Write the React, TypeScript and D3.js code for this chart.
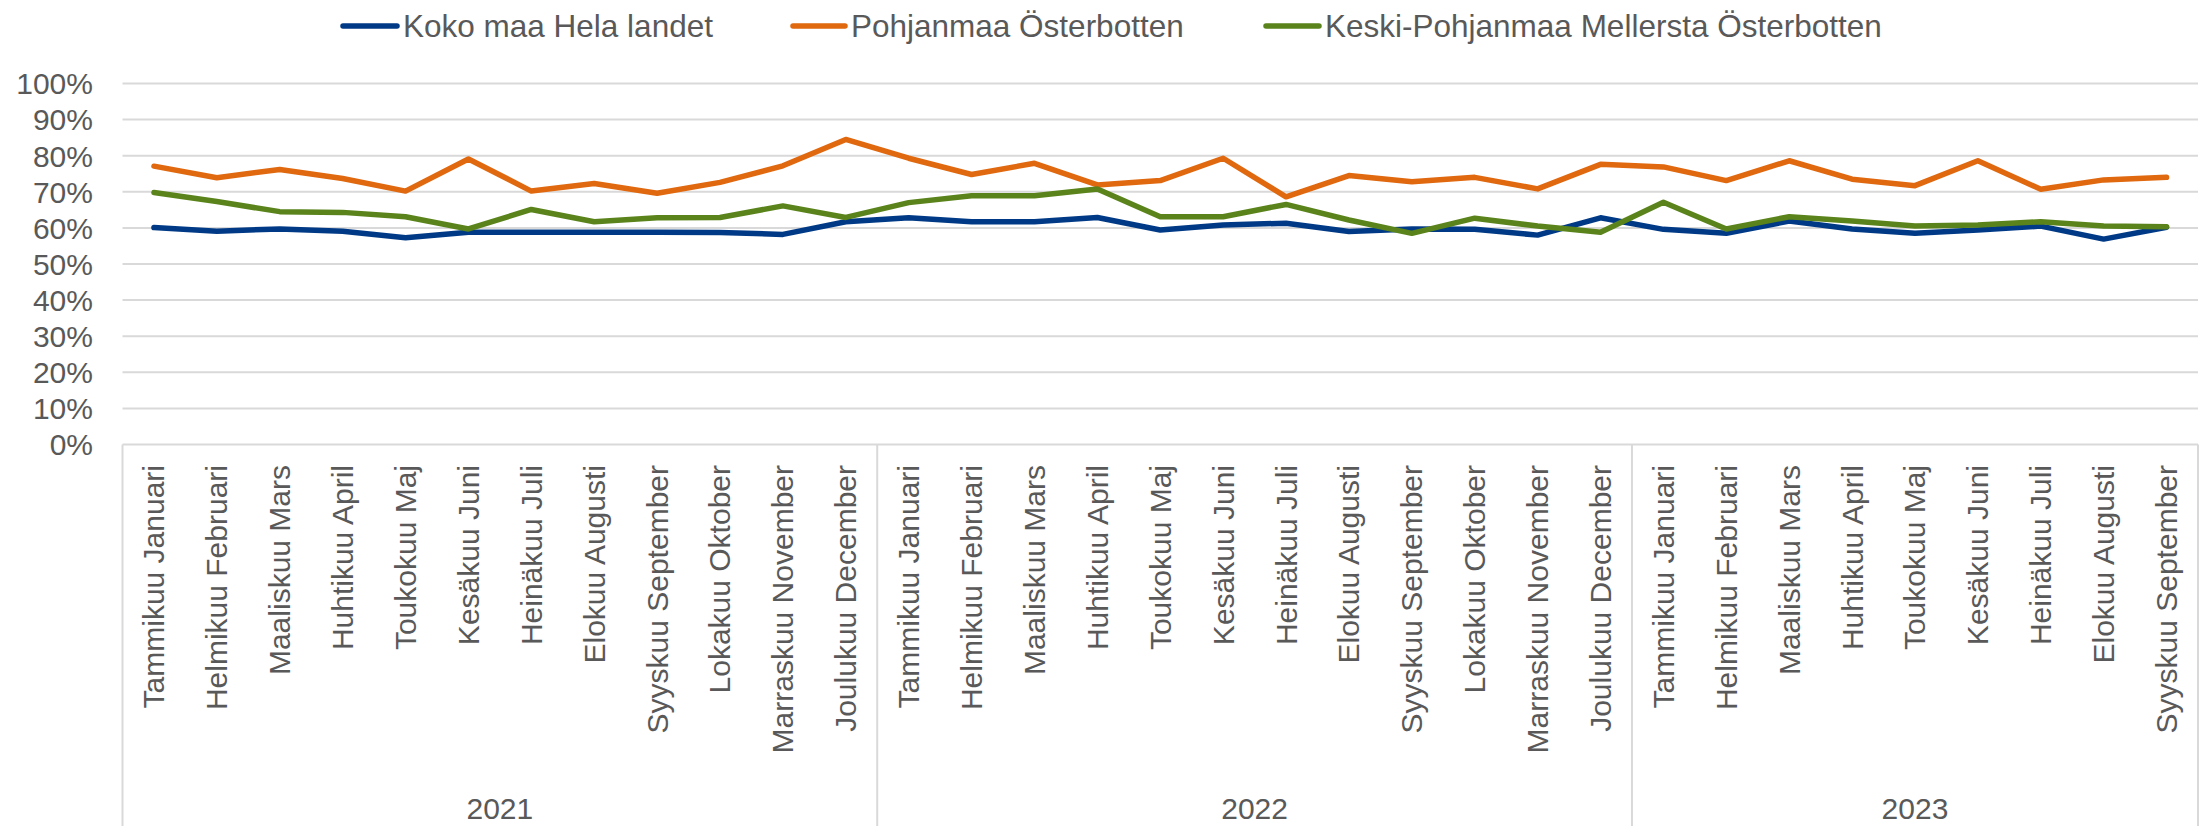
import React from "react";
import * as d3 from "d3";

// months in Finnish + Swedish
const months = [
  "Tammikuu Januari", "Helmikuu Februari", "Maaliskuu Mars", "Huhtikuu April",
  "Toukokuu Maj", "Kesäkuu Juni", "Heinäkuu Juli", "Elokuu Augusti",
  "Syyskuu September", "Lokakuu Oktober", "Marraskuu November", "Joulukuu December",
];
const years = ["2021", "2022", "2023"];
const monthsPerYear = [12, 12, 9];

const kokoMaa = [
  60.1, 59.1, 59.7, 59.1, 57.3, 58.8, 58.8, 58.8, 58.8, 58.7, 58.2, 61.7,
  62.8, 61.7, 61.7, 62.9, 59.4, 60.8, 61.3, 59.0, 59.7, 59.6, 58.0, 62.8,
  59.6, 58.5, 61.9, 59.7, 58.5, 59.4, 60.5, 56.9, 60.2,
];
const pohjanmaa = [
  77.1, 73.9, 76.2, 73.7, 70.2, 79.1, 70.2, 72.3, 69.6, 72.6, 77.2, 84.5,
  79.3, 74.8, 77.9, 71.9, 73.1, 79.3, 68.6, 74.5, 72.8, 74.0, 70.8, 77.6,
  76.9, 73.1, 78.6, 73.5, 71.7, 78.6, 70.7, 73.3, 74.0,
];
const keskiPohjanmaa = [
  69.8, 67.3, 64.5, 64.3, 63.1, 59.7, 65.1, 61.7, 62.8, 62.9, 66.1, 62.9,
  67.0, 68.9, 68.9, 70.8, 63.1, 63.1, 66.5, 62.2, 58.5, 62.7, 60.5, 58.8,
  67.1, 59.7, 63.1, 61.9, 60.5, 60.8, 61.7, 60.5, 60.3,
];

const seriesNames = [
  "Koko maa Hela landet",
  "Pohjanmaa Österbotten",
  "Keski-Pohjanmaa Mellersta Österbotten",
];
const colors = ["#003A86", "#E0680F", "#5A841B"];
const yTicks = [0, 10, 20, 30, 40, 50, 60, 70, 80, 90, 100];

const width = 2209;
const height = 826;
const margin = { top: 83.5, right: 11, bottom: 381.5, left: 122.5 };
const font = "'Liberation Sans', Arial, sans-serif";
const textColor = "#595959";
const gridColor = "#D9D9D9";

export default function App() {
  const categories: { year: string; month: string; i: number }[] = [];
  monthsPerYear.forEach((n, yi) => {
    for (let m = 0; m < n; m++) {
      categories.push({ year: years[yi], month: months[m], i: categories.length });
    }
  });

  const x = d3
    .scaleBand<number>()
    .domain(categories.map((d) => d.i))
    .range([margin.left, width - margin.right]);
  const y = d3
    .scaleLinear()
    .domain([0, 100])
    .range([height - margin.bottom, margin.top]);

  const cx = (i: number) => (x(i) as number) + x.bandwidth() / 2;
  const line = d3
    .line<number>()
    .x((_, i) => cx(i))
    .y((d) => y(d));

  const allSeries = [kokoMaa, pohjanmaa, keskiPohjanmaa];
  const axisY = y(0);

  // year group boundaries
  const bounds: number[] = [margin.left];
  let acc = 0;
  monthsPerYear.forEach((n) => {
    acc += n;
    bounds.push((x(acc - 1) as number) + x.bandwidth());
  });

  const legend = [
    { x1: 343, x2: 397, tx: 403 },
    { x1: 793, x2: 845, tx: 851 },
    { x1: 1266, x2: 1319, tx: 1325 },
  ];

  return (
    <svg
      width={width}
      height={height}
      style={{ position: "absolute", left: 0, top: 0, background: "#fff" }}
      fontFamily={font}
    >
      {/* gridlines */}
      {yTicks.slice(1).map((t) => (
        <line key={t} x1={margin.left} x2={width - margin.right} y1={y(t)} y2={y(t)} stroke={gridColor} strokeWidth={2} />
      ))}
      {yTicks.map((t) => (
        <text key={"l" + t} x={93} y={y(t)} dy="0.36em" textAnchor="end" fontSize={30} fill={textColor}>
          {t}%
        </text>
      ))}

      {/* category axis */}
      <line x1={margin.left} x2={width - margin.right} y1={axisY} y2={axisY} stroke={gridColor} strokeWidth={2} />
      {bounds.map((b, i) => (
        <line key={"b" + i} x1={b} x2={b} y1={axisY} y2={height} stroke={gridColor} strokeWidth={2} />
      ))}
      {categories.map((c) => (
        <text
          key={"m" + c.i}
          transform={`translate(${cx(c.i)},465) rotate(-90)`}
          dy="0.35em"
          textAnchor="end"
          fontSize={30}
          fill={textColor}
        >
          {c.month}
        </text>
      ))}
      {years.map((yr, i) => (
        <text key={yr} x={(bounds[i] + bounds[i + 1]) / 2} y={808} dy="0.36em" textAnchor="middle" fontSize={30} fill={textColor}>
          {yr}
        </text>
      ))}

      {/* series */}
      {allSeries.map((s, i) => (
        <path
          key={"s" + i}
          d={line(s) || ""}
          fill="none"
          stroke={colors[i]}
          strokeWidth={5.5}
          strokeLinejoin="round"
          strokeLinecap="round"
        />
      ))}

      {/* legend */}
      {legend.map((l, i) => (
        <g key={"lg" + i}>
          <line x1={l.x1} x2={l.x2} y1={26} y2={26} stroke={colors[i]} strokeWidth={5.5} strokeLinecap="round" />
          <text x={l.tx} y={26} dy="0.36em" fontSize={31.5} fill={textColor}>
            {seriesNames[i]}
          </text>
        </g>
      ))}
    </svg>
  );
}
